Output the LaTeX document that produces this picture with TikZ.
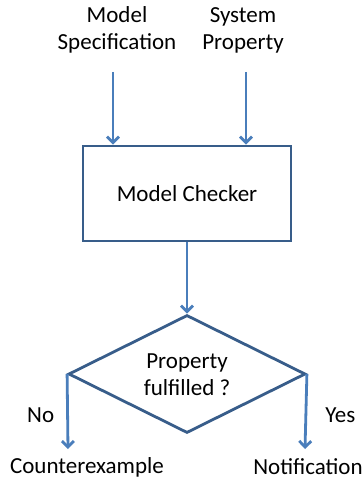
\documentclass[tikz,border=0pt]{standalone}
\usepackage{fontspec}
\setmainfont{Carlito}
\usetikzlibrary{arrows.meta,shapes.geometric}

\definecolor{flowblue}{HTML}{4A7EBB}
\definecolor{boxblue}{HTML}{385D8A}

\tikzset{
	txt/.style={font=\fontsize{23}{27}\selectfont, text=black, align=center, inner sep=0pt},
	flow/.style={flowblue, line width=2.8pt, -{Straight Barb[length=6pt,width=12pt,line width=2.8pt]}},
	checker/.style={draw=boxblue, line width=2.8pt, minimum width=208pt, minimum height=95pt, inner sep=0pt},
	decision/.style={diamond, draw=boxblue, line width=2.8pt, aspect=2, inner sep=0pt, minimum width=237pt, minimum height=118pt}
}

\begin{document}
\begin{tikzpicture}[x=1pt,y=-1pt]
		\useasboundingbox (0,0) rectangle (363,481);
		% inputs
		\node[txt] (spec) at (117,30) {Model\\Specification};
		\node[txt] (prop) at (243,30) {System\\Property};
		\coordinate (specend) at (113,72);
		\coordinate (propend) at (246,72);
		% checker and decision
		\node[checker, txt] (mc) at (187,193.5) {Model Checker};
		\node[decision] (ok) at (187,374) {};
		\node[txt] (oktext) at (187,375) {Property\\fulfilled ?};
		% results
		\node[txt] (cex) at (87,467) {Counterexample};
		\node[txt] (note) at (308,467) {Notification};
		\coordinate (noend) at (68,449);
		\coordinate (yesend) at (305,449);
		\draw[flow] (specend) -- (specend |- mc.north);
		\draw[flow] (propend) -- (propend |- mc.north);
		\draw[flow] (mc.south) -- (ok.north);
		\draw[flow] (ok.west) -- (noend) node[pos=0.55, left=12pt, txt]{No};
		\draw[flow] (ok.east) -- (yesend) node[pos=0.55, right=18pt, txt]{Yes};
	\end{tikzpicture}
\end{document}
